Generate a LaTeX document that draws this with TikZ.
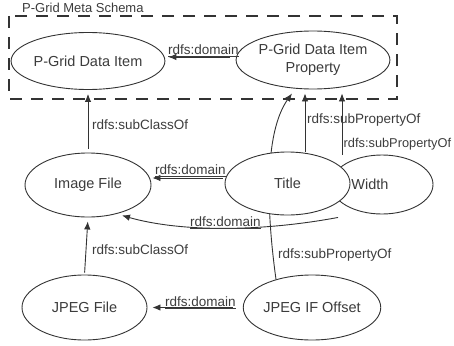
\documentclass[tikz,border=0pt]{standalone}
\usepackage{fontspec}
\setmainfont{Liberation Sans}
\usetikzlibrary{shapes.geometric,arrows.meta,backgrounds}
\definecolor{linec}{HTML}{333333}
\definecolor{txt}{HTML}{3C3C3C}
\tikzset{
  ent/.style={ellipse, draw=linec, fill=white, line width=0.9pt, inner sep=0pt,
    text=txt, align=center, font=\fontsize{14.5}{18}\selectfont},
  lab/.style={inner sep=0pt, anchor=base west, text=txt,
    font=\fontsize{13.5}{15}\selectfont},
  rel/.style={draw=linec, line width=0.9pt, -{Latex[length=8pt,width=6.5pt]}},
  schemabox/.style={draw=linec, line width=1.1pt, dash pattern=on 12pt off 9pt}
}
\begin{document}
\begin{tikzpicture}[x=1pt, y=-1pt]
\useasboundingbox (0,0) rectangle (454,345);

% classes and properties
\node[ent, minimum width=126pt, minimum height=57pt] (pgdi)  at (88,61)      {P-Grid Data Item};
\node[ent, minimum width=126pt, minimum height=58pt] (pgdip) at (313,60)     {P-Grid Data Item\\Property};
\node[ent, minimum width=126pt, minimum height=64pt] (img)   at (88,185)     {Image File};
\node[ent, minimum width=102pt, minimum height=59pt] (width) at (382,184.5)  {Width\hspace*{24pt}};
\node[ent, minimum width=125pt, minimum height=63pt] (title) at (287.5,183.5) {Title};
\node[ent, minimum width=125pt, minimum height=65pt] (jpeg)  at (84.5,307.5) {JPEG File};
\node[ent, minimum width=124pt, minimum height=65pt] (jpegif) at (312,307.5) {JPEG IF Offset};

% relation labels
\node[lab] (schema) at (22,12.5) {\fontsize{13}{15}\selectfont P-Grid Meta Schema};
\node[lab] (ld1) at (168,54.5)  {\underline{rdfs:domain}};
\node[lab] (ls1) at (92,129.5)  {rdfs:subClassOf};
\node[lab] (ld2) at (155,174.5) {\underline{rdfs:domain}};
\node[lab] (lp1) at (307,123.5) {rdfs:subPropertyOf};
\node[lab, font=\fontsize{12.8}{15}\selectfont] (lp2) at (343.5,147.5) {rdfs:subPropertyOf};
\node[lab] (ld3) at (190,226.5) {\underline{rdfs:domain}};
\node[lab] (ls2) at (92,254.5)  {rdfs:subClassOf};
\node[lab] (lp3) at (278,258.5) {rdfs:subPropertyOf};
\node[lab] (ld4) at (165,306.5) {\underline{rdfs:domain}};

\begin{pgfonlayer}{background}
  % meta schema frame
  \draw[schemabox] (9,16) rectangle (397,99);

  % rdfs:domain
  \draw[rel, shorten <=6pt, shorten >=3pt] ([yshift=3pt]pgdip.west) -- ([yshift=4pt]pgdi.east);
  \draw[rel, shorten <=2pt, shorten >=1pt] ([yshift=5.5pt]title.west) -- ([yshift=7pt]img.east);
  \draw[rel] ([shift={(-44pt,-3pt)}]width.south) .. controls (260,232) and (180,232) .. ([shift={(34pt,2pt)}]img.south);
  \draw[rel, shorten <=10pt, shorten >=5pt] (jpegif.west) -- (jpeg.east);

  % rdfs:subClassOf
  \draw[rel, shorten <=4pt, shorten >=4pt] (img.north) -- (pgdi.south);
  \draw[rel, shorten <=2pt, shorten >=4pt] (jpeg.north) -- (img.south);

  % rdfs:subPropertyOf
  \draw[rel, shorten >=4pt] ([xshift=17.5pt]title.north) -- ([xshift=-8pt]pgdip.south);
  \draw[rel, shorten >=4pt] ([xshift=-40pt]width.north) -- ([xshift=29pt]pgdip.south);
  \draw[rel] (jpegif.142) .. controls (265,200) and (266,130) .. ([shift={(-21pt,-4pt)}]pgdip.south);
\end{pgfonlayer}
\end{tikzpicture}
\end{document}
